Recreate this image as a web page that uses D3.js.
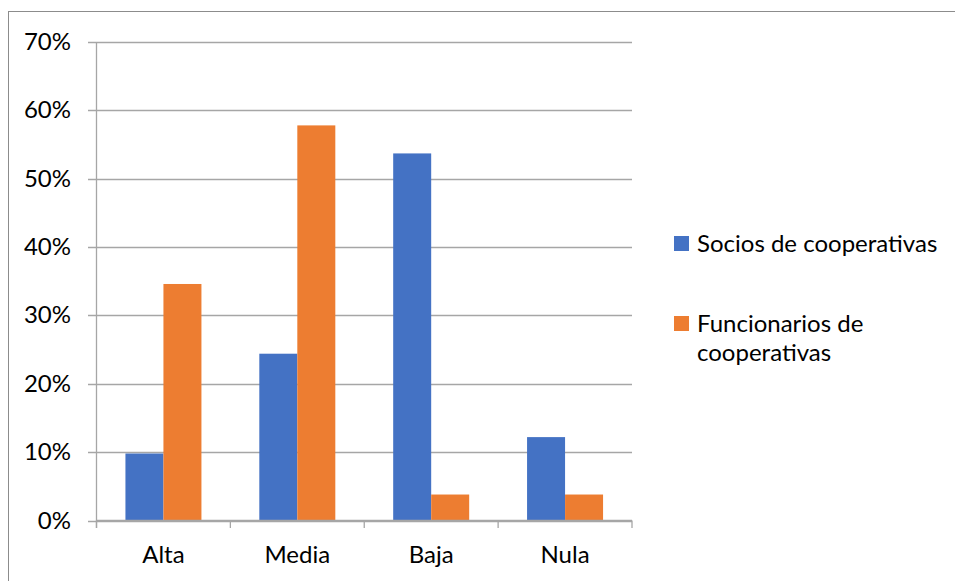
<!DOCTYPE html>
<html>
<head>
<meta charset="utf-8">
<script src="https://cdn.jsdelivr.net/npm/d3@7"></script>
<style>
  html, body { margin: 0; padding: 0; background: #fff; }
  svg { display: block; }
  text { font-family: Lato, "Open Sans", sans-serif; fill: #000; }
</style>
</head>
<body>
<svg id="chart" width="955" height="581"></svg>
<script>
const categories = ["Alta", "Media", "Baja", "Nula"];
const seriesNames = ["Socios de cooperativas", "Funcionarios de cooperativas"];
const socios = [0.098, 0.244, 0.537, 0.122];
const funcionarios = [0.346, 0.578, 0.038, 0.038];
const yTicks = [0, 0.1, 0.2, 0.3, 0.4, 0.5, 0.6, 0.7];
const colors = ["#4472C4", "#ED7D31"];

const svg = d3.select("#chart");
const plot = { left: 96.5, right: 632, top: 42, bottom: 520.5 };
const fontSize = 24;

// border
svg.append("rect")
  .attr("x", 8.5).attr("y", 11.5)
  .attr("width", 960).attr("height", 600)
  .attr("fill", "none").attr("stroke", "#8c8c8c").attr("stroke-width", 1);

const y = d3.scaleLinear().domain([0, 0.7]).range([plot.bottom, plot.top]);
const x0 = d3.scaleBand().domain(categories).range([plot.left, plot.right]).padding(0);
const groupW = 76;
const x1 = d3.scaleBand().domain(seriesNames).range([0, groupW]).padding(0);
const offset = (x0.bandwidth() - groupW) / 2;

// gridlines
svg.append("g").selectAll("line").data(yTicks).join("line")
  .attr("x1", 88).attr("x2", plot.right)
  .attr("y1", d => Math.round(y(d)) + 0.5).attr("y2", d => Math.round(y(d)) + 0.5)
  .attr("stroke", "#a6a6a6").attr("stroke-width", 1.3);

// y labels
svg.append("g").selectAll("text").data(yTicks).join("text")
  .attr("x", 71).attr("y", d => y(d) + 8)
  .attr("text-anchor", "end")
  .style("font-size", fontSize + "px")
  .text(d => d3.format(".0%")(d));

// bars
const data = categories.map((c, i) => ({ cat: c, vals: [socios[i], funcionarios[i]] }));
const groups = svg.append("g").selectAll("g").data(data).join("g")
  .attr("transform", d => `translate(${x0(d.cat) + offset},0)`);
groups.selectAll("rect").data(d => d.vals.map((v, j) => ({ v, s: seriesNames[j], j })))
  .join("rect")
  .attr("x", d => x1(d.s))
  .attr("width", x1.bandwidth())
  .attr("y", d => y(d.v))
  .attr("height", d => y(0) - y(d.v))
  .attr("fill", d => colors[d.j]);

// axes lines
svg.append("line").attr("x1", plot.left).attr("x2", plot.left)
  .attr("y1", plot.top).attr("y2", 528)
  .attr("stroke", "#a6a6a6").attr("stroke-width", 1.3);
svg.append("line").attr("x1", plot.left).attr("x2", plot.right)
  .attr("y1", plot.bottom).attr("y2", plot.bottom)
  .attr("stroke", "#a6a6a6").attr("stroke-width", 1.3);
const tickXs = categories.map(c => x0(c)).concat([plot.right]);
svg.append("g").selectAll("line").data(tickXs).join("line")
  .attr("x1", d => d).attr("x2", d => d)
  .attr("y1", plot.bottom).attr("y2", 528)
  .attr("stroke", "#a6a6a6").attr("stroke-width", 1.3);

// category labels
svg.append("g").selectAll("text").data(categories).join("text")
  .attr("x", d => x0(d) + x0.bandwidth() / 2)
  .attr("y", 563)
  .attr("text-anchor", "middle")
  .style("font-size", fontSize + "px")
  .text(d => d);

// legend
const legend = [
  { lines: ["Socios de cooperativas"], y: 236, color: colors[0] },
  { lines: ["Funcionarios de", "cooperativas"], y: 316, color: colors[1] }
];
const lg = svg.append("g").selectAll("g").data(legend).join("g");
lg.append("rect").attr("x", 674).attr("y", d => d.y).attr("width", 15).attr("height", 15)
  .attr("fill", d => d.color);
lg.each(function(d) {
  const g = d3.select(this);
  d.lines.forEach((ln, k) => {
    g.append("text").attr("x", 697).attr("y", d.y + 16 + k * 28.5)
      .style("font-size", fontSize + "px").text(ln);
  });
});
</script>
</body>
</html>
